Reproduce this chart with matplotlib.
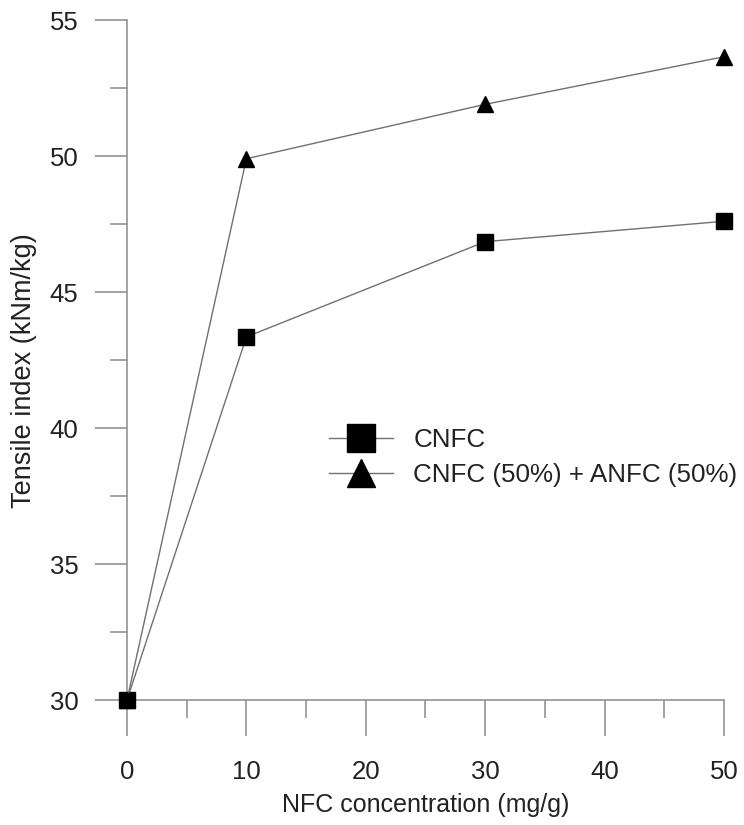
import numpy as np
import matplotlib
matplotlib.use("Agg")
import matplotlib.pyplot as plt
from matplotlib.ticker import MultipleLocator

plt.rcParams['font.family'] = ['Liberation Sans', 'DejaVu Sans']

# NFC concentration (mg/g)
conc = [0, 10, 30, 50]
# Tensile index (kNm/kg)
cnfc = [30.0, 43.35, 46.85, 47.6]
cnfc_anfc = [30.0, 49.9, 51.9, 53.65]

fig = plt.figure(figsize=(7.44, 8.25), dpi=100)
ax = fig.add_axes([127/744, 1-700/825, 597/744, 680/825])

line_c = '#707070'
ax.plot(conc, cnfc, color=line_c, lw=1.0, marker='s', ms=11.5,
        mfc='black', mec='black', clip_on=False, zorder=3, label='CNFC')
ax.plot(conc, cnfc_anfc, color=line_c, lw=1.0, marker='^', ms=11.5,
        mfc='black', mec='black', clip_on=False, zorder=3,
        label='CNFC (50%) + ANFC (50%)')

ax.set_xlim(0, 50)
ax.set_ylim(30, 55)
ax.xaxis.set_major_locator(MultipleLocator(10))
ax.xaxis.set_minor_locator(MultipleLocator(5))
ax.yaxis.set_major_locator(MultipleLocator(5))
ax.yaxis.set_minor_locator(MultipleLocator(2.5))

spine_c = '#8a8a8a'
for s in ['top', 'right']:
    ax.spines[s].set_visible(False)
for s in ['left', 'bottom']:
    ax.spines[s].set_color(spine_c)
    ax.spines[s].set_linewidth(1.1)

ax.tick_params(axis='x', which='major', direction='out', length=26, width=1.1,
               color=spine_c, labelsize=18.5, pad=17, labelcolor='#222222')
ax.tick_params(axis='x', which='minor', direction='out', length=13, width=1.1,
               color=spine_c)
ax.tick_params(axis='y', which='major', direction='out', length=23, width=1.1,
               color=spine_c, labelsize=18.5, pad=12, labelcolor='#222222')
ax.tick_params(axis='y', which='minor', direction='out', length=12, width=1.1,
               color=spine_c)

ax.set_xlabel('NFC concentration (mg/g)', fontsize=18, color='#222222')
ax.set_ylabel('Tensile index (kNm/kg)', fontsize=19.5, color='#222222')
ax.xaxis.set_label_coords(0.5, -0.137)
ax.yaxis.set_label_coords(-0.151, 0.485)

fig.legend(loc='center left', bbox_to_anchor=(329/744, 1-457.5/825),
           frameon=False, fontsize=18.7, markerscale=1.7, handlelength=2.45,
           handletextpad=0.8, labelspacing=0.4, borderpad=0,
           borderaxespad=0, labelcolor='#222222')

fig.savefig('out.png', dpi=100)
